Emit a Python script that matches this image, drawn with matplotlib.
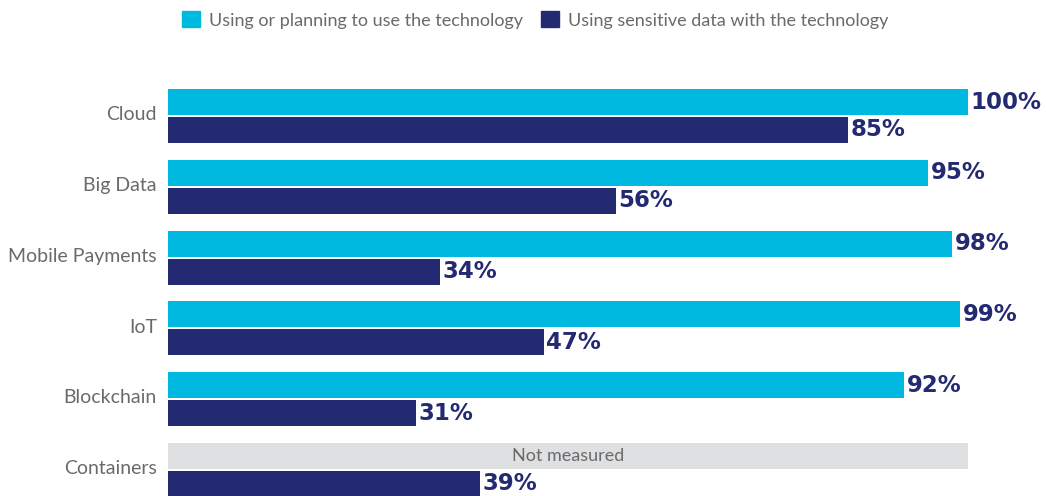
import matplotlib
matplotlib.use("Agg")
import matplotlib.pyplot as plt
from matplotlib.patches import Patch
import numpy as np

# data
categories = ["Cloud", "Big Data", "Mobile Payments", "IoT", "Blockchain", "Containers"]
using_planning = [100, 95, 98, 99, 92, None]   # Containers: not measured
sensitive_data = [85, 56, 34, 47, 31, 39]
series_labels = ["Using or planning to use the technology",
                 "Using sensitive data with the technology"]

CYAN = "#00b9e0"
NAVY = "#232a72"
GRAY_BG = "#dfe0e2"
TEXT_GRAY = "#6a6a6a"

plt.rcParams["font.family"] = ["Lato", "DejaVu Sans"]
VAL_FONT = dict(family=["DejaVu Sans"], fontsize=16.5, fontweight="bold", color=NAVY)

fig = plt.figure(figsize=(10.46, 4.96), dpi=100)
W, H = 1046, 496
ax = fig.add_axes([168 / W, 0, 872 / W, 1])

y = np.arange(len(categories))
h = 0.367
off = 0.197

for i, (a, b) in enumerate(zip(using_planning, sensitive_data)):
    if a is None:
        ax.barh(y[i] - off, 100, height=h, color=GRAY_BG)
        ax.text(50, y[i] - off, "Not measured", ha="center", va="center",
                fontsize=13, color=TEXT_GRAY)
    else:
        ax.barh(y[i] - off, a, height=h, color=CYAN)
        ax.text(a + 0.3, y[i] - off, f"{a}%", ha="left", va="center", **VAL_FONT)
    ax.barh(y[i] + off, b, height=h, color=NAVY)
    ax.text(b + 0.3, y[i] + off, f"{b}%", ha="left", va="center", **VAL_FONT)

ax.set_xlim(0, 109)
ax.set_ylim((496 - 116) / 70.8, -116 / 70.8)
ax.set_yticks(y - 0.04)
ax.set_yticklabels(categories, fontsize=14, color=TEXT_GRAY)
ax.tick_params(axis="y", length=0, pad=8)
ax.set_xticks([])
for s in ax.spines.values():
    s.set_visible(False)

handles = [Patch(color=CYAN), Patch(color=NAVY)]
leg = fig.legend(handles, series_labels, loc="upper left",
                 bbox_to_anchor=(166 / W, 1 + 5 / H), ncol=2, frameon=False,
                 handlelength=1.0, handleheight=1.0, handletextpad=0.5,
                 columnspacing=1.0, fontsize=13)
for t in leg.get_texts():
    t.set_color(TEXT_GRAY)

fig.savefig("out.png", dpi=100)
